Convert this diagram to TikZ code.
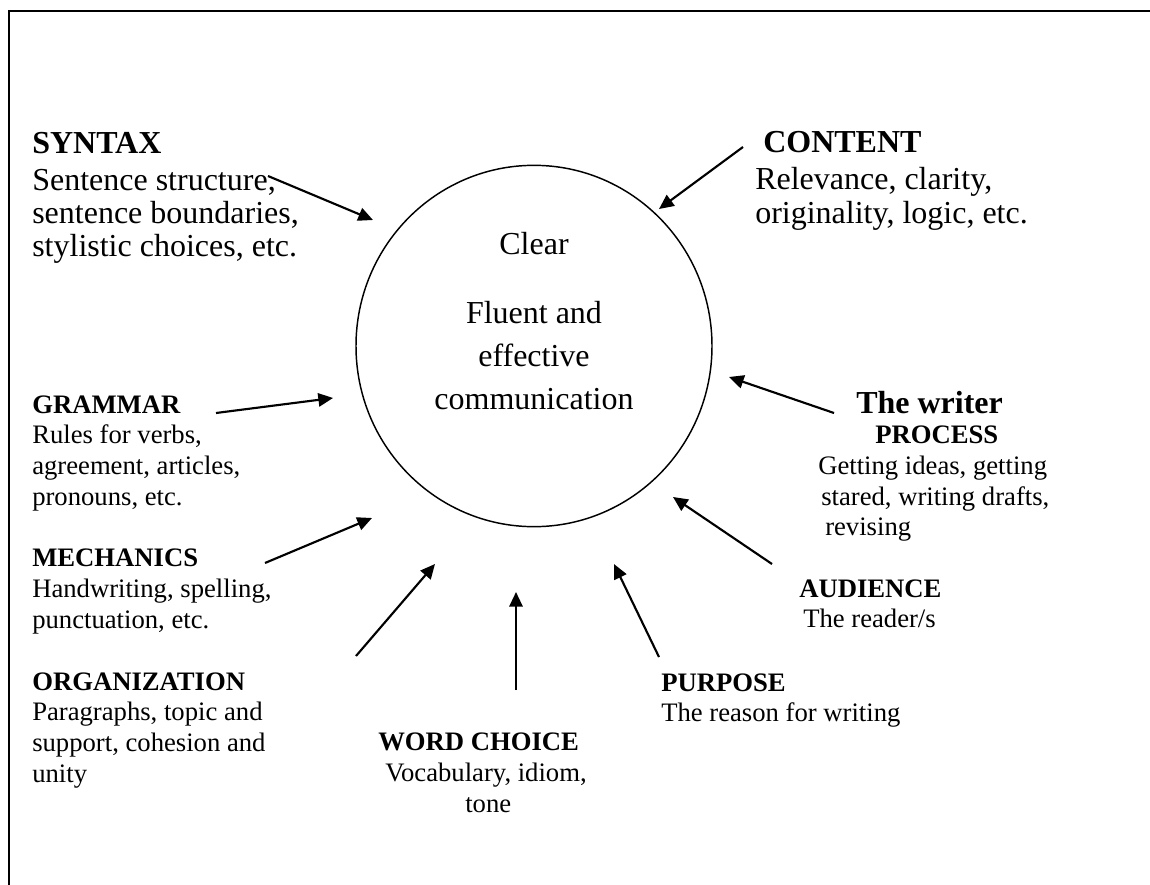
\documentclass[tikz,border=0pt]{standalone}
\usepackage{fontspec}
\setmainfont{Liberation Serif}
\usetikzlibrary{arrows.meta,shapes.geometric}
\begin{document}
\begin{tikzpicture}[x=0.75pt,y=-0.75pt,
  big/.style={font=\fontsize{24pt}{25pt}\selectfont, align=left, anchor=base west, inner sep=0pt},
  small/.style={font=\fontsize{20pt}{23pt}\selectfont, align=left, anchor=base west, inner sep=0pt},
  centre/.style={font=\fontsize{24pt}{32pt}\selectfont, align=center, anchor=base, inner sep=0pt},
  arr/.style={line width=1.6pt, -{Triangle[length=11pt,width=10pt]}},
  frame/.style={line width=1.5pt}]
\useasboundingbox (0,0) rectangle (1150,885);
\draw[frame] (8.5,885) -- (8.5,11) -- (1150,11);

% central ellipse and its text (text nodes are placed by the baseline of their last line)
\node[draw, ellipse, line width=1.1pt, minimum width=267pt, minimum height=271pt, inner sep=0pt] (hub) at (534,346) {};
\node[centre] (hubtext) at (534,409.3) {Clear\\[19.75pt]Fluent and\\effective\\communication};

% text blocks
\node[big] (syntax) at (32,256.7) {\textbf{SYNTAX}\\[2.75pt]Sentence structure,\\sentence boundaries,\\stylistic choices, etc.};
\node[big] (content) at (755,223.3) {\hspace*{6pt}\textbf{CONTENT}\\[2.75pt]Relevance, clarity,\\originality, logic, etc.};
\node[small] (grammar) at (32,505) {\textbf{GRAMMAR}\\Rules for verbs,\\agreement, articles,\\pronouns, etc.};
\node[small] (mechanics) at (32,628) {\textbf{MECHANICS}\\Handwriting, spelling,\\punctuation, etc.};
\node[small] (organization) at (32,782) {\textbf{ORGANIZATION}\\Paragraphs, topic and\\support, cohesion and\\unity};
\node[small] (wordchoice) at (378,812.3) {\textbf{WORD CHOICE}\\\hspace*{5.25pt}Vocabulary, idiom,\\\hspace*{65.25pt}tone};
\node[small] (purpose) at (661,721.7) {\textbf{PURPOSE}\\The reason for writing};
\node[small] (audience) at (799,627.7) {\textbf{AUDIENCE}\\\hspace*{3pt}The reader/s};
\node[small] (writer) at (818,535.7) {\hspace*{28.5pt}{\fontsize{24pt}{23pt}\selectfont\textbf{The writer}}\\\hspace*{42.75pt}\textbf{PROCESS}\\Getting ideas, getting\\\hspace*{2.25pt}stared, writing drafts,\\\hspace*{5.25pt}revising};

% arrow end points
\coordinate (syS) at (268,176); \coordinate (syE) at (373,220);
\coordinate (coS) at (743,147); \coordinate (coE) at (659,209);
\coordinate (wrS) at (834,413); \coordinate (wrE) at (729,377);
\coordinate (grS) at (216,413); \coordinate (grE) at (333,398);
\coordinate (meS) at (265,563); \coordinate (meE) at (372,518);
\coordinate (orS) at (356,656); \coordinate (orE) at (435,564);
\coordinate (woS) at (516,690); \coordinate (woE) at (516,592);
\coordinate (puS) at (659,657); \coordinate (puE) at (614,564);
\coordinate (auS) at (772,564); \coordinate (auE) at (673,497);

\draw[arr] (syS) -- (syE);
\draw[arr] (coS) -- (coE);
\draw[arr] (wrS) -- (wrE);
\draw[arr] (grS) -- (grE);
\draw[arr] (meS) -- (meE);
\draw[arr] (orS) -- (orE);
\draw[arr] (woS) -- (woE);
\draw[arr] (puS) -- (puE);
\draw[arr] (auS) -- (auE);
\end{tikzpicture}
\end{document}
